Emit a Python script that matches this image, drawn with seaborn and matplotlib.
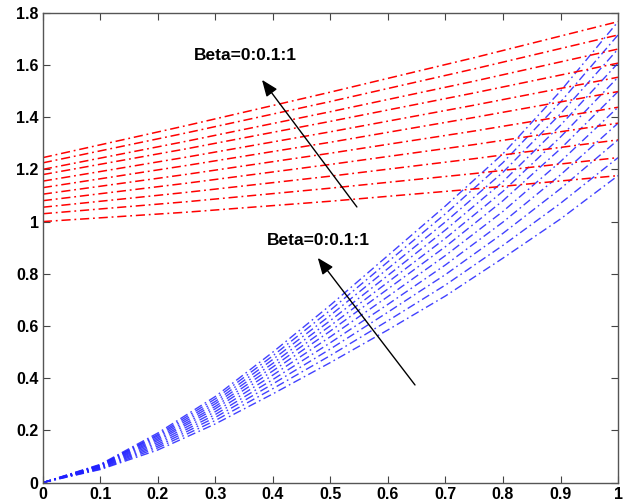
import numpy as np
import pandas as pd
import matplotlib
matplotlib.use("Agg")
import matplotlib.pyplot as plt
import seaborn as sns

# ---- data ----
beta = [0.0, 0.1, 0.2, 0.3, 0.4, 0.5, 0.6, 0.7, 0.8, 0.9, 1.0]

x_red = [0.0, 0.25, 0.5, 0.75, 1.0]
red_lines = [
    [1.000, 1.036, 1.078, 1.125, 1.176],
    [1.030, 1.076, 1.128, 1.184, 1.245],
    [1.055, 1.112, 1.174, 1.241, 1.313],
    [1.080, 1.147, 1.219, 1.295, 1.377],
    [1.105, 1.181, 1.262, 1.347, 1.438],
    [1.130, 1.215, 1.304, 1.399, 1.498],
    [1.155, 1.247, 1.344, 1.446, 1.553],
    [1.180, 1.279, 1.384, 1.493, 1.607],
    [1.200, 1.308, 1.421, 1.538, 1.661],
    [1.225, 1.340, 1.460, 1.585, 1.715],
    [1.245, 1.368, 1.496, 1.628, 1.766],
]

x_blue = [0.0, 0.1, 0.2, 0.3, 0.4, 0.5, 0.6, 0.7, 0.8, 0.9, 1.0]
blue_lines = [
    [0, 0.050, 0.125, 0.225, 0.340, 0.460, 0.585, 0.715, 0.860, 1.010, 1.176],
    [0, 0.052, 0.133, 0.238, 0.360, 0.487, 0.620, 0.757, 0.909, 1.070, 1.245],
    [0, 0.055, 0.140, 0.250, 0.378, 0.512, 0.653, 0.797, 0.955, 1.126, 1.313],
    [0, 0.057, 0.147, 0.261, 0.395, 0.536, 0.683, 0.834, 0.998, 1.179, 1.377],
    [0, 0.059, 0.154, 0.272, 0.412, 0.559, 0.713, 0.870, 1.039, 1.230, 1.438],
    [0, 0.061, 0.161, 0.283, 0.428, 0.581, 0.742, 0.904, 1.080, 1.279, 1.498],
    [0, 0.063, 0.167, 0.292, 0.443, 0.601, 0.768, 0.936, 1.116, 1.324, 1.553],
    [0, 0.065, 0.173, 0.302, 0.457, 0.621, 0.794, 0.968, 1.153, 1.369, 1.607],
    [0, 0.067, 0.179, 0.311, 0.472, 0.641, 0.820, 0.999, 1.189, 1.413, 1.661],
    [0, 0.068, 0.184, 0.321, 0.486, 0.661, 0.846, 1.030, 1.226, 1.458, 1.715],
    [0, 0.070, 0.190, 0.330, 0.500, 0.680, 0.870, 1.060, 1.260, 1.500, 1.766],
]

label_text = "Beta=0:0.1:1"
x_ticks = [0, 0.1, 0.2, 0.3, 0.4, 0.5, 0.6, 0.7, 0.8, 0.9, 1]
x_ticklabels = ["0", "0.1", "0.2", "0.3", "0.4", "0.5", "0.6", "0.7", "0.8", "0.9", "1"]
y_ticks = [0, 0.2, 0.4, 0.6, 0.8, 1.0, 1.2, 1.4, 1.6, 1.8]
y_ticklabels = ["0", "0.2", "0.4", "0.6", "0.8", "1", "1.2", "1.4", "1.6", "1.8"]

# ---- build long tables ----
red_df = pd.DataFrame(
    [(b, x, y) for b, row in zip(beta, red_lines) for x, y in zip(x_red, row)],
    columns=["beta", "x", "y"],
)
blue_df = pd.DataFrame(
    [(b, x, y) for b, row in zip(beta, blue_lines) for x, y in zip(x_blue, row)],
    columns=["beta", "x", "y"],
)

sns.set_style("ticks")
plt.rcParams["font.family"] = ["Liberation Sans", "DejaVu Sans"]
plt.rcParams["text.color"] = "black"

fig = plt.figure(figsize=(6.30, 5.03), dpi=100)
ax = fig.add_axes([0.068, 0.0406, 0.913, 0.934])

dash = (0, (6, 2.5, 1.2, 2.5))
sns.lineplot(data=blue_df, x="x", y="y", units="beta", estimator=None,
             color="#2020ff", lw=1.0, ax=ax, linestyle=dash, alpha=0.85)
sns.lineplot(data=red_df, x="x", y="y", units="beta", estimator=None,
             color="#ff0000", lw=1.1, ax=ax, linestyle=dash)

arrow = dict(arrowstyle="-|>,head_length=1.0,head_width=0.4", color="k",
             lw=1.0, shrinkA=0, shrinkB=0)
ax.annotate("", xy=(0.381, 1.543), xytext=(0.546, 1.056), arrowprops=arrow)
ax.annotate("", xy=(0.478, 0.861), xytext=(0.647, 0.374), arrowprops=arrow)
ax.text(0.263, 1.638, label_text, fontsize=12.5, fontweight="bold",
        color="black", ha="left", va="center")
ax.text(0.39, 0.929, label_text, fontsize=12.5, fontweight="bold",
        color="black", ha="left", va="center")

ax.set_xlim(0, 1)
ax.set_ylim(0, 1.8)
ax.set_xticks(x_ticks)
ax.set_xticklabels(x_ticklabels)
ax.set_yticks(y_ticks)
ax.set_yticklabels(y_ticklabels)
ax.set_xlabel("")
ax.set_ylabel("")
ax.tick_params(direction="in", top=True, right=True, length=5, width=0.8,
               labelsize=11.5, colors="#444444", labelcolor="black", pad=3)
for lab in ax.get_xticklabels() + ax.get_yticklabels():
    lab.set_fontweight("bold")
    lab.set_color("black")
for sp in ax.spines.values():
    sp.set_visible(True)
    sp.set_color("#555555")
    sp.set_linewidth(1.0)

fig.savefig("out.png", dpi=100)
